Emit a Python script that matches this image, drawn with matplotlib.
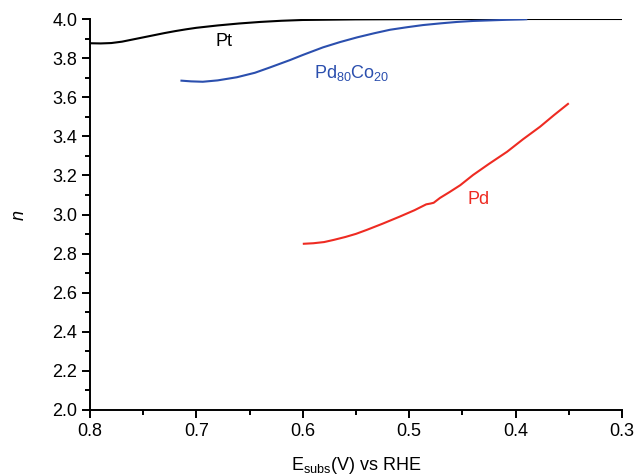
import matplotlib
matplotlib.use("Agg")
import matplotlib.pyplot as plt
from matplotlib.ticker import MultipleLocator

plt.rcParams['font.family'] = ['Liberation Sans', 'DejaVu Sans']
plt.rcParams['mathtext.default'] = 'regular'

# Pt
pt_e = [0.800, 0.790, 0.780, 0.770, 0.760, 0.750, 0.740, 0.730, 0.720, 0.710, 0.700,
        0.680, 0.660, 0.640, 0.620, 0.600, 0.550, 0.500, 0.450, 0.400, 0.350, 0.300]
pt_n = [3.876, 3.875, 3.877, 3.884, 3.895, 3.906, 3.917, 3.928, 3.938, 3.947, 3.955,
        3.967, 3.977, 3.985, 3.991, 3.995, 3.998, 3.999, 4.000, 4.000, 4.000, 4.000]

# Pd80Co20
pdco_e = [0.715, 0.705, 0.694, 0.680, 0.662, 0.645, 0.631, 0.612, 0.600, 0.581, 0.565,
          0.549, 0.533, 0.518, 0.502, 0.487, 0.470, 0.455, 0.440, 0.424, 0.408, 0.393, 0.389]
pdco_n = [3.685, 3.681, 3.679, 3.686, 3.702, 3.725, 3.752, 3.790, 3.816, 3.855, 3.882,
          3.906, 3.927, 3.945, 3.958, 3.969, 3.978, 3.985, 3.990, 3.993, 3.996, 3.998, 3.999]

# Pd
pd_e = [0.600, 0.590, 0.580, 0.571, 0.560, 0.550, 0.540, 0.525, 0.509, 0.495, 0.484,
        0.480, 0.477, 0.471, 0.462, 0.452, 0.440, 0.425, 0.408, 0.393, 0.377, 0.364, 0.350]
pd_n = [2.850, 2.853, 2.859, 2.870, 2.885, 2.901, 2.921, 2.953, 2.989, 3.022, 3.052,
        3.056, 3.060, 3.085, 3.115, 3.150, 3.202, 3.259, 3.321, 3.385, 3.449, 3.508, 3.569]

fig = plt.figure(figsize=(6.38, 4.76), dpi=100)
ax = fig.add_axes([90/638, 1-410/476, 532/638, 391/476])

ax.plot(pt_e, pt_n, color='black', lw=1.5, solid_capstyle='butt')
ax.plot(pdco_e, pdco_n, color='#2b4fae', lw=1.5, solid_capstyle='butt')
ax.plot(pd_e, pd_n, color='#ee2b22', lw=1.5, solid_capstyle='butt')

ax.text(0.674, 3.885, 'Pt', color='black', fontsize=13, ha='center', va='center')
ax.text(0.554, 3.722, r'Pd$_{80}$Co$_{20}$', color='#2b4fae', fontsize=13, ha='center', va='center')
ax.text(0.435, 3.077, 'Pd', color='#ee2b22', fontsize=13, ha='center', va='center')

ax.set_xlim(0.8, 0.3)
ax.set_ylim(2.0, 4.0)
ax.xaxis.set_major_locator(MultipleLocator(0.1))
ax.xaxis.set_minor_locator(MultipleLocator(0.05))
ax.yaxis.set_major_locator(MultipleLocator(0.2))
ax.yaxis.set_minor_locator(MultipleLocator(0.1))
ax.xaxis.set_major_formatter(plt.FuncFormatter(lambda v, p: f'{v:.1f}'))
ax.yaxis.set_major_formatter(plt.FuncFormatter(lambda v, p: f'{v:.1f}'))

for s in ['top', 'right']:
    ax.spines[s].set_visible(False)
for s in ['left', 'bottom']:
    ax.spines[s].set_linewidth(1.4)
ax.tick_params(which='major', direction='out', length=6, width=1.4, labelsize=13, pad=3)
ax.tick_params(which='minor', direction='out', length=3.5, width=1.4)

ax.set_xlabel(r'E$_{subs}$(V) vs RHE', fontsize=13, labelpad=11)
ax.set_ylabel('n', fontsize=13, style='italic', labelpad=18)

fig.savefig('out.png', dpi=100)
